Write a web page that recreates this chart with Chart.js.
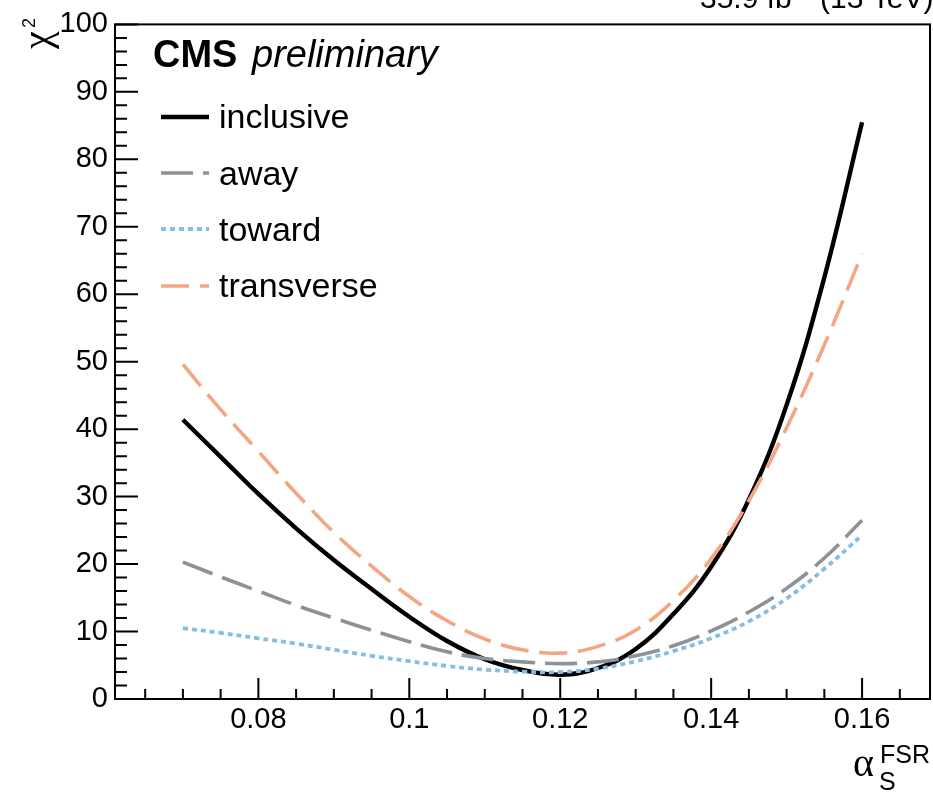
<!DOCTYPE html>
<html><head><meta charset="utf-8">
<script src="https://cdn.jsdelivr.net/npm/chart.js@4/dist/chart.umd.min.js"></script>
<style>html,body{margin:0;padding:0;background:#fff}canvas{display:block}</style>
</head><body>
<canvas id="c" width="933" height="792"></canvas>
<script>
// ---- data ----
const alphaS = [0.07,0.075,0.08,0.085,0.09,0.095,0.10,0.105,0.11,0.115,0.12,0.125,0.13,0.135,0.14,0.145,0.15,0.155,0.16];
const inclusive  = [41.4,35.9,30.4,25.3,20.6,16.3,12.2,8.6,5.9,4.3,3.6,4.6,7.4,12.6,19.6,29.6,43.6,62.5,85.5];
const away       = [20.3,18.1,16.0,13.9,12.0,10.2,8.5,7.0,6.0,5.5,5.25,5.5,6.4,7.9,10.1,12.9,16.4,20.9,26.5];
const toward     = [10.5,9.8,9.0,8.2,7.3,6.4,5.6,4.9,4.35,4.05,4.0,4.5,5.6,7.1,9.0,11.5,14.9,19.3,24.3];
const transverse = [49.6,42.9,36.7,30.5,24.7,19.7,15.2,11.6,8.9,7.3,6.8,7.8,10.2,14.6,20.8,29.4,40.2,52.5,66.0];
const seriesNames = ['inclusive','away','toward','transverse'];
const xTicks = [0.08,0.10,0.12,0.14,0.16];
const xTickLabels = ['0.08','0.1','0.12','0.14','0.16'];
const yTicks = [0,10,20,30,40,50,60,70,80,90,100];
const yTickLabels = ['0','10','20','30','40','50','60','70','80','90','100'];

const FONT = '"Liberation Sans", Arial, Helvetica, sans-serif';
const SERIF = '"Liberation Serif", "DejaVu Serif", serif';

function pts(ys){ return alphaS.map((x,i)=>({x:x, y:ys[i]})); }

const styles = [
  {color:'#000000', width:4.4, dash:[]},
  {color:'#8c9398', width:3.6, dash:[32,10]},
  {color:'#86bde4', width:3.8, dash:[5,4]},
  {color:'#f4a582', width:3.6, dash:[28,11]}
];
const seriesData = [inclusive, away, toward, transverse];

const datasets = seriesData.map((ys,i)=>({
  label: seriesNames[i],
  data: pts(ys),
  borderColor: styles[i].color,
  borderWidth: styles[i].width,
  borderDash: styles[i].dash,
  borderCapStyle: 'butt',
  pointRadius: 0,
  fill: false,
  tension: 0.4,
  order: 4 - i
}));

const decor = {
  id: 'decor',
  afterDatasetsDraw(chart){
    const ctx = chart.ctx, a = chart.chartArea;
    const xs = chart.scales.x, ys = chart.scales.y;
    ctx.save();
    ctx.strokeStyle = '#000'; ctx.lineWidth = 2; ctx.setLineDash([]);
    // frame
    ctx.strokeRect(a.left, a.top, a.right - a.left, a.bottom - a.top);
    // y ticks (inward)
    ctx.beginPath();
    ys.ticks.forEach(t=>{ const p = ys.getPixelForValue(t.value); ctx.moveTo(a.left, p); ctx.lineTo(a.left+23, p); });
    for (let k = Math.ceil(ys.min/2); k <= Math.floor(ys.max/2); k++){
      if (k % 5 === 0) continue;
      const p = ys.getPixelForValue(k*2); ctx.moveTo(a.left, p); ctx.lineTo(a.left+12, p);
    }
    // x ticks (inward)
    xs.ticks.forEach(t=>{ const p = xs.getPixelForValue(t.value); ctx.moveTo(p, a.bottom); ctx.lineTo(p, a.bottom-21); });
    for (let k = Math.ceil(xs.min/0.005 - 1e-9); k <= Math.floor(xs.max/0.005 + 1e-9); k++){
      if (k % 4 === 0) continue;
      const p = xs.getPixelForValue(k*0.005); ctx.moveTo(p, a.bottom); ctx.lineTo(p, a.bottom-10);
    }
    ctx.stroke();

    // CMS preliminary
    ctx.fillStyle = '#000';
    ctx.textBaseline = 'alphabetic'; ctx.textAlign = 'left';
    ctx.font = 'bold 38px ' + FONT;
    ctx.fillText('CMS', 153, 67);
    ctx.font = 'italic 38px ' + FONT;
    ctx.fillText('preliminary', 252, 67);

    // legend
    const rows = [117, 173, 229, 286];
    const base = [128, 185, 241, 297];
    chart.data.datasets.forEach((ds,i)=>{
      ctx.save();
      ctx.strokeStyle = ds.borderColor; ctx.lineWidth = ds.borderWidth;
      ctx.setLineDash(ds.borderDash || []); ctx.lineCap = 'butt';
      ctx.beginPath(); ctx.moveTo(161, rows[i]); ctx.lineTo(209, rows[i]); ctx.stroke();
      ctx.restore();
      ctx.font = '34px ' + FONT; ctx.fillStyle = '#000';
      ctx.fillText(ds.label, 219, base[i]);
    });

    // luminosity text (cut at top)
    ctx.font = '30px ' + FONT;
    ctx.fillText('35.9 fb\u207B\u00B9 (13 TeV)', 700, 8);

    // y axis title chi^2 (rotated)
    ctx.save();
    ctx.translate(50, 49); ctx.rotate(-Math.PI/2);
    ctx.font = '40px ' + SERIF; ctx.fillText('\u03C7', 0, 0);
    ctx.font = '18px ' + FONT; ctx.fillText('2', 21, -15);
    ctx.restore();

    // x axis title alpha_S^FSR
    ctx.font = '40px ' + SERIF; ctx.fillText('\u03B1', 853, 776);
    ctx.font = '25px ' + FONT;
    ctx.fillText('FSR', 880, 763);
    ctx.fillText('S', 879, 790);
    ctx.restore();
  }
};

new Chart(document.getElementById('c'), {
  type: 'line',
  data: { datasets },
  options: {
    responsive: false,
    animation: false,
    devicePixelRatio: 1,
    layout: { padding: { left: 0, top: 16, right: 3, bottom: 0 } },
    plugins: { legend: { display: false }, tooltip: { enabled: false } },
    scales: {
      x: {
        type: 'linear', min: 0.061, max: 0.169,
        grid: { display: false, drawTicks: false }, border: { display: false },
        afterFit: s => { s.height = 93; },
        afterBuildTicks: s => { s.ticks = xTicks.map(v=>({value:v})); },
        ticks: { autoSkip: false, maxRotation: 0, padding: 4, color: '#000',
          font: { family: FONT, size: 29, lineHeight: 1.2 },
          callback: (v, i) => xTickLabels[i] }
      },
      y: {
        type: 'linear', min: 0, max: 100,
        grid: { display: false, drawTicks: false }, border: { display: false },
        afterFit: s => { s.width = 115; },
        afterBuildTicks: s => { s.ticks = yTicks.map(v=>({value:v})); },
        ticks: { autoSkip: false, padding: 7, color: '#000',
          font: { family: FONT, size: 29, lineHeight: 1.2 },
          callback: (v, i) => yTickLabels[i] }
      }
    }
  },
  plugins: [decor]
});
</script>
</body></html>
